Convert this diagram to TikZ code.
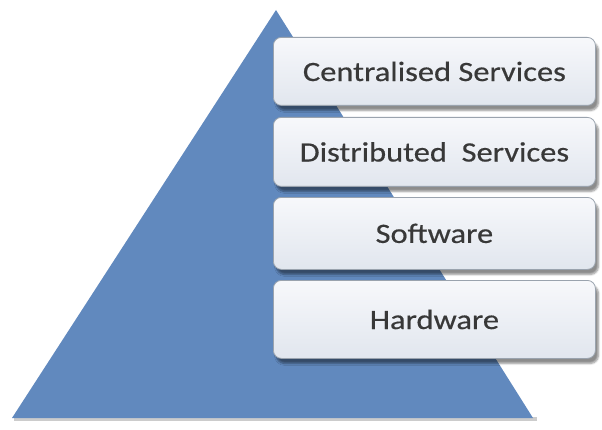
\documentclass[tikz,border=0pt]{standalone}
\usepackage{fontspec}
\setmainfont{Carlito}
\newfontfamily\layerfont[FakeStretch=1.16, FakeBold=0.5]{Carlito}
\usetikzlibrary{shadows.blur}
\definecolor{pyr}{HTML}{6189BE}
\definecolor{boxtop}{HTML}{F7F8FB}
\definecolor{boxbot}{HTML}{E1E6EE}
\definecolor{boxedge}{HTML}{9AA3AE}
\definecolor{txt}{HTML}{383838}
\tikzset{
  layer/.style={draw=boxedge, line width=0.8pt, rounded corners=8pt,
    top color=boxtop, bottom color=boxbot,
    minimum width=322pt, minimum height=70pt, anchor=north west,
    text=txt, font=\layerfont\fontsize{28}{31}\selectfont,
    blur shadow={shadow xshift=3pt, shadow yshift=-5pt, shadow blur steps=6,
      shadow opacity=45}},
}
\begin{document}
\begin{tikzpicture}[x=1pt,y=1pt]
  \useasboundingbox (0,0) rectangle (602,429);
  % pyramid with soft ground shadow
  \fill[gray!40] (14,8) -- (537,8) -- (537,12) -- (14,12) -- cycle;
  \fill[pyr] (276,419) -- (533,11) -- (12,11) -- cycle;
  % layers, top to bottom
  \node[layer, minimum height=68pt] (central) at (273,392) {Centralised Services};
  \node[layer, minimum height=69pt] (distrib) at (273,312) {Distributed\ \ Services};
  \node[layer, minimum height=72pt] (soft) at (273,232) {Software};
  \node[layer, minimum height=78pt] (hard) at (273,149) {Hardware};
\end{tikzpicture}
\end{document}
